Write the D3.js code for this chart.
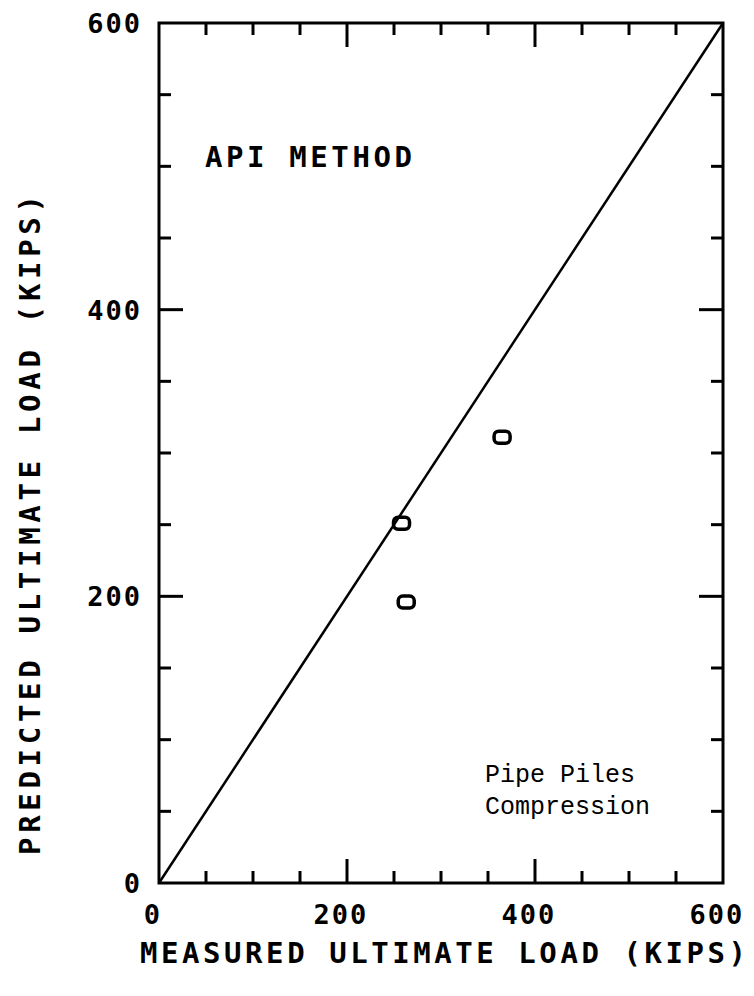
<!DOCTYPE html>
<html>
<head>
<meta charset="utf-8">
<script src="https://cdn.jsdelivr.net/npm/d3@7"></script>
<style>
  html, body { margin: 0; padding: 0; background: #fff; }
  svg { display: block; }
</style>
</head>
<body>
<svg id="chart" width="754" height="996"></svg>
<script>
// ---- data ----
const measured  = [365, 258, 263];   // kips (x)
const predicted = [311, 251, 196];   // kips (y)
const tickLabels = [0, 200, 400, 600];
const minorTicks = [50, 100, 150, 250, 300, 350, 450, 500, 550];
const majorTicks = [200, 400];
const equalityLine = [[0, 0], [600, 600]];
const xTitle = "MEASURED ULTIMATE LOAD (KIPS)";
const yTitle = "PREDICTED ULTIMATE LOAD (KIPS)";
const methodLabel = "API METHOD";
const noteLines = ["Pipe Piles", "Compression"];

// ---- layout ----
const L = 159, R = 723, T = 23, B = 883;
const svg = d3.select("#chart");
const x = d3.scaleLinear().domain([0, 600]).range([L, R]);
const y = d3.scaleLinear().domain([0, 600]).range([B, T]);
const ink = "#000";
const plotFont = "'DejaVu Sans Mono', monospace";

// frame
svg.append("rect").attr("x", L).attr("y", T).attr("width", R - L).attr("height", B - T)
  .attr("fill", "none").attr("stroke", ink).attr("stroke-width", 3);

// ticks (inward on all sides)
const minorLen = 12, majorLen = 24;
function tickSet(vals, len) {
  vals.forEach(v => {
    svg.append("line").attr("x1", x(v)).attr("x2", x(v)).attr("y1", B).attr("y2", B - len)
      .attr("stroke", ink).attr("stroke-width", 3);
    svg.append("line").attr("x1", x(v)).attr("x2", x(v)).attr("y1", T).attr("y2", T + len)
      .attr("stroke", ink).attr("stroke-width", 3);
    svg.append("line").attr("y1", y(v)).attr("y2", y(v)).attr("x1", L).attr("x2", L + len)
      .attr("stroke", ink).attr("stroke-width", 3);
    svg.append("line").attr("y1", y(v)).attr("y2", y(v)).attr("x1", R).attr("x2", R - len)
      .attr("stroke", ink).attr("stroke-width", 3);
  });
}
tickSet(minorTicks, minorLen);
tickSet(majorTicks, majorLen);

// tick labels
svg.append("g").selectAll("text").data(tickLabels).join("text")
  .attr("x", d => x(d) - 6).attr("y", 924)
  .attr("text-anchor", "middle")
  .attr("font-family", plotFont).attr("font-weight", "bold").attr("font-size", 27)
  .attr("letter-spacing", 2)
  .text(d => d);
svg.append("g").selectAll("text").data(tickLabels).join("text")
  .attr("x", 142).attr("y", d => y(d) + 10)
  .attr("text-anchor", "end")
  .attr("font-family", plotFont).attr("font-weight", "bold").attr("font-size", 27)
  .attr("letter-spacing", 2)
  .text(d => d);

// axis titles
svg.append("text").attr("x", 140).attr("y", 963)
  .attr("font-family", plotFont).attr("font-weight", "bold").attr("font-size", 29)
  .attr("textLength", 606).attr("lengthAdjust", "spacing")
  .text(xTitle);
svg.append("text")
  .attr("transform", "translate(40,855) rotate(-90)")
  .attr("font-family", plotFont).attr("font-weight", "bold").attr("font-size", 29)
  .attr("textLength", 660).attr("lengthAdjust", "spacing")
  .text(yTitle);

// equality line
svg.append("path").datum(equalityLine)
  .attr("d", d3.line().x(d => x(d[0])).y(d => y(d[1])))
  .attr("fill", "none").attr("stroke", ink).attr("stroke-width", 2.5);

// points
const pts = measured.map((m, i) => ({ m, p: predicted[i] }));
svg.append("g").selectAll("rect").data(pts).join("rect")
  .attr("x", d => x(d.m) - 8).attr("y", d => y(d.p) - 6)
  .attr("width", 16).attr("height", 12).attr("rx", 4.5)
  .attr("fill", "none").attr("stroke", ink).attr("stroke-width", 3.5);

// labels in plot
svg.append("text").attr("x", 205).attr("y", 167)
  .attr("font-family", plotFont).attr("font-weight", "bold").attr("font-size", 29)
  .attr("textLength", 207).attr("lengthAdjust", "spacing")
  .text(methodLabel);
svg.append("g").selectAll("text").data(noteLines).join("text")
  .attr("x", 485).attr("y", (d, i) => 782 + i * 32)
  .attr("font-family", "'Liberation Mono', 'Courier New', monospace").attr("font-size", 25)
  .text(d => d);
</script>
</body>
</html>
